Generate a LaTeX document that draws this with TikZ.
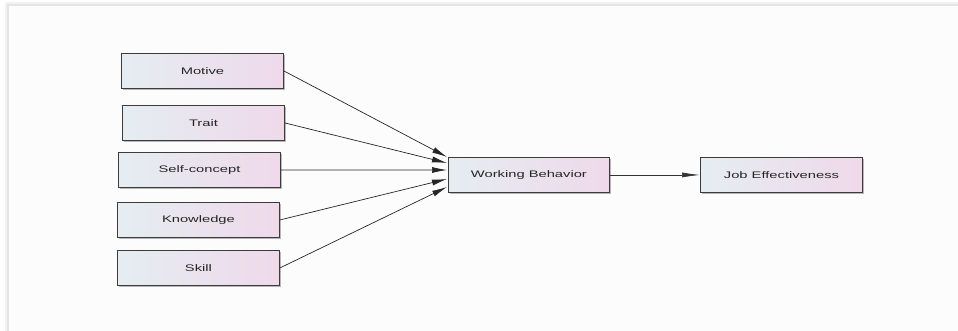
\documentclass[tikz,border=0pt]{standalone}
\usepackage{fontspec}
\newfontfamily\boxfont[FakeStretch=1.55]{Liberation Sans}
\usetikzlibrary{arrows.meta,shadows}
\definecolor{boxleft}{RGB}{229,237,242}
\definecolor{boxright}{RGB}{239,217,234}
\definecolor{boxline}{RGB}{60,60,60}
\definecolor{pagebg}{RGB}{252,252,252}
\tikzset{
  boxnode/.style={draw=boxline, line width=0.9pt, left color=boxleft, right color=boxright,
    minimum width=162pt, minimum height=35pt, inner sep=0pt, anchor=north west,
    font=\boxfont\fontsize{9.5}{11}\selectfont, text=black!85,
    drop shadow={shadow xshift=1.2pt, shadow yshift=-1.2pt, fill=black!45, opacity=0.6}},
  conn/.style={draw=black!85, line width=0.7pt, -{Latex[length=15pt,width=6pt]}},
  conn2/.style={draw=black!80, line width=0.7pt, -{Latex[length=18pt,width=5pt]}}
}
\begin{document}
\begin{tikzpicture}[x=1pt,y=-1pt]
\useasboundingbox (0,0) rectangle (958,331);
\fill[white] (0,0) rectangle (958,331);
\fill[pagebg] (8,5) rectangle (958,331);
\draw[black!10, line width=1.5pt] (8,331) -- (8,5) -- (958,5);
\draw[black!5, line width=2pt] (6,331) -- (6,3) -- (958,3);

\node[boxnode] (motive) at (121,53) {Motive};
\node[boxnode] (trait) at (122,105) {Trait};
\node[boxnode] (self) at (118,152) {Self-concept};
\node[boxnode] (know) at (117,202) {Knowledge};
\node[boxnode] (skill) at (117,250) {Skill};
\node[boxnode, minimum width=161pt] (wb) at (448,157) {Working Behavior};
\node[boxnode] (je) at (700,157) {Job Effectiveness};

\coordinate (t1) at (447,157);
\coordinate (t2) at (447,163);
\coordinate (t3) at (447,170);
\coordinate (t4) at (447,179);
\coordinate (t5) at (447,187);

\draw[conn] (motive.east) -- (t1);
\draw[conn] (trait.east) -- (t2);
\draw[conn] (self.east) -- (t3);
\draw[conn] (know.east) -- (t4);
\draw[conn] (skill.east) -- (t5);
\draw[conn2] (wb.east) -- (je.west);
\end{tikzpicture}
\end{document}
